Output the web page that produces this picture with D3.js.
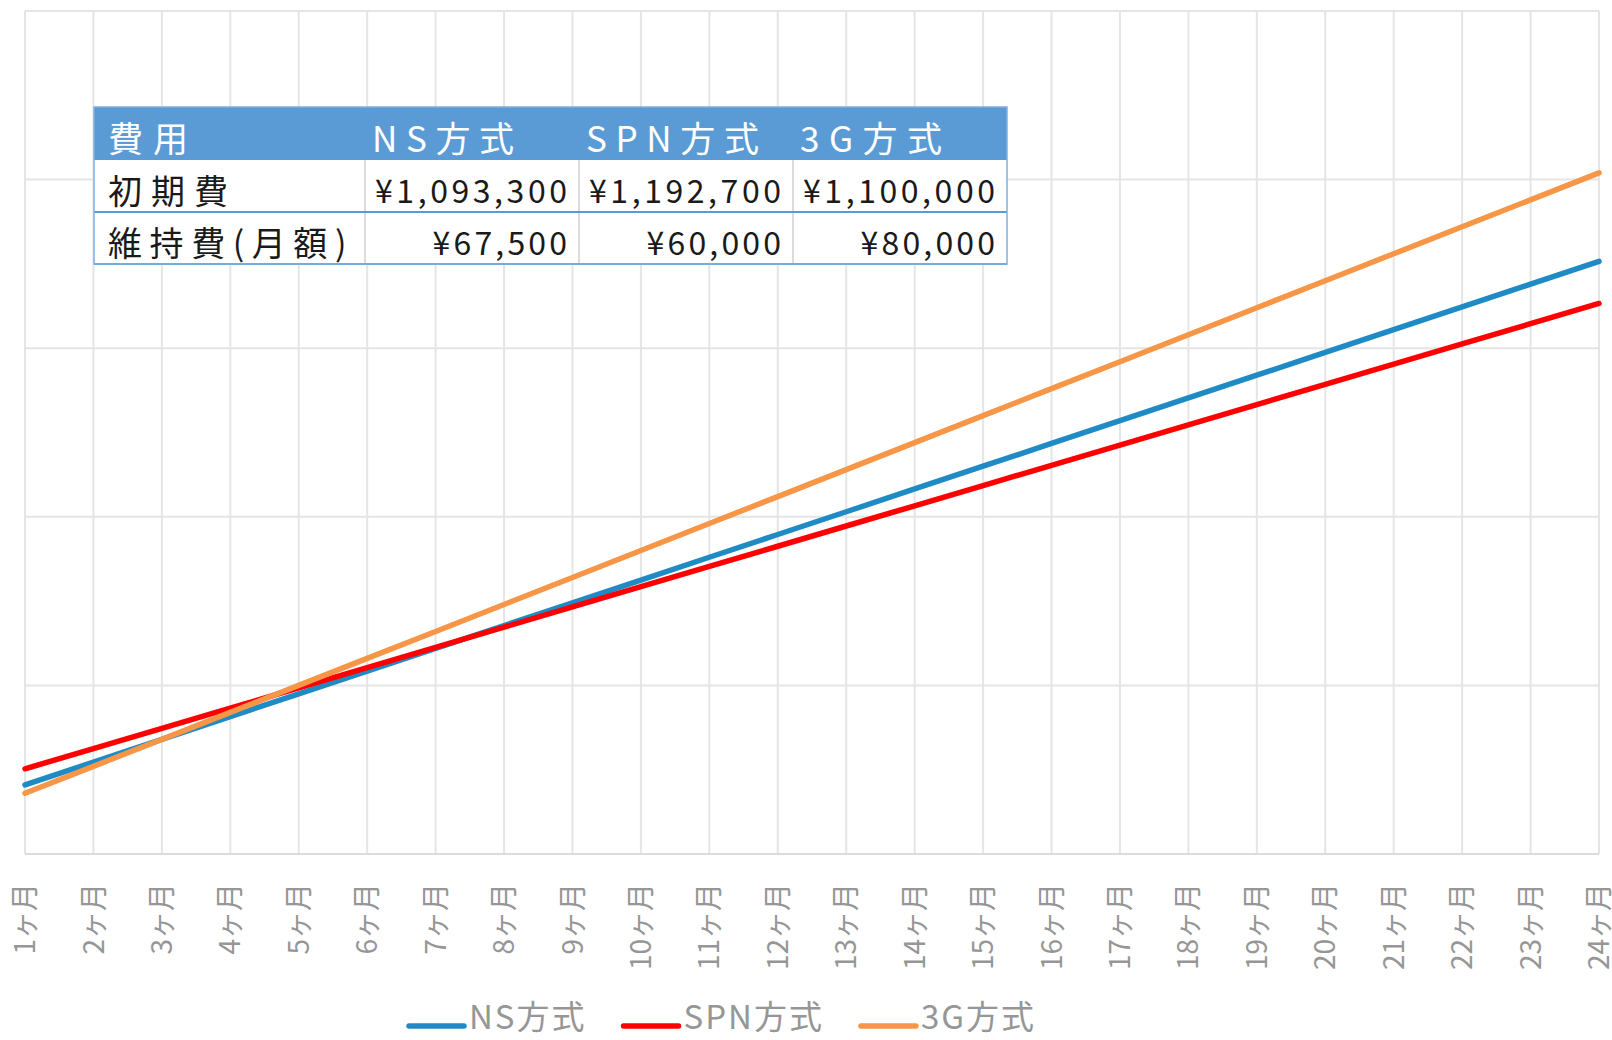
<!DOCTYPE html>
<html>
<head>
<meta charset="utf-8">
<script src="https://cdn.jsdelivr.net/npm/d3@7"></script>
<style>
  body { margin: 0; background: #fff; }
  text { font-family: "Noto Sans CJK JP", "Noto Sans", sans-serif; }
</style>
</head>
<body>
<div id="chart"></div>
<script>
// months on the x axis
var months = ["1ヶ月", "2ヶ月", "3ヶ月", "4ヶ月", "5ヶ月", "6ヶ月", "7ヶ月", "8ヶ月",
              "9ヶ月", "10ヶ月", "11ヶ月", "12ヶ月", "13ヶ月", "14ヶ月", "15ヶ月", "16ヶ月",
              "17ヶ月", "18ヶ月", "19ヶ月", "20ヶ月", "21ヶ月", "22ヶ月", "23ヶ月", "24ヶ月"];

// cumulative cost
var nsCost  = [1205000, 1272500, 1340000, 1407500, 1475000, 1542500, 1610000, 1677500,
               1745000, 1812500, 1880000, 1947500, 2015000, 2082500, 2150000, 2217500,
               2285000, 2352500, 2420000, 2487500, 2555000, 2622500, 2690000, 2757500];
var spnCost = [1252700, 1312700, 1372700, 1432700, 1492700, 1552700, 1612700, 1672700,
               1732700, 1792700, 1852700, 1912700, 1972700, 2032700, 2092700, 2152700,
               2212700, 2272700, 2332700, 2392700, 2452700, 2512700, 2572700, 2632700];
var g3Cost  = [1180000, 1260000, 1340000, 1420000, 1500000, 1580000, 1660000, 1740000,
               1820000, 1900000, 1980000, 2060000, 2140000, 2220000, 2300000, 2380000,
               2460000, 2540000, 2620000, 2700000, 2780000, 2860000, 2940000, 3020000];

var seriesNames = ["NS方式", "SPN方式", "3G方式"];
var yTicks = [1000000, 1500000, 2000000, 2500000, 3000000, 3500000];

// table in the chart
var tableHeader = ["費用", "NS方式", "SPN方式", "3G方式"];
var rowLabels = ["初期費", "維持費(月額)"];
var initialCost = [1093300, 1192700, 1100000];
var monthlyCost = [67500, 60000, 80000];

var width = 1612,
    height = 1040;

var svg = d3.select('#chart')
            .append('svg')
            .attr('width', width)
            .attr('height', height);

var x = d3.scalePoint().domain(months).range([25, 1599]);
var y = d3.scaleLinear().domain([1000000, 3500000]).range([854, 11]);

var colors = d3.scaleOrdinal().domain(seriesNames)
               .range(["#1f8bc4", "#ff0000", "#f79646"]);

// grid
var grid = svg.append('g');
grid.selectAll('.vgrid').data(months).enter()
    .append('line')
    .attr('x1', function(d) { return x(d); })
    .attr('x2', function(d) { return x(d); })
    .attr('y1', y(3500000)).attr('y2', y(1000000))
    .attr('stroke', '#e5e5e5').attr('stroke-width', 2);
grid.selectAll('.hgrid').data(yTicks).enter()
    .append('line')
    .attr('x1', x(months[0])).attr('x2', x(months[months.length - 1]))
    .attr('y1', function(d) { return y(d); })
    .attr('y2', function(d) { return y(d); })
    .attr('stroke', function(d, i) { return i == 0 ? '#dcdcdc' : '#e5e5e5'; })
    .attr('stroke-width', 2);

// x labels, rotated
svg.append('g').selectAll('text').data(months).enter()
   .append('text')
   .attr('transform', function(d) { return 'translate(' + x(d) + ',883) rotate(-90)'; })
   .attr('text-anchor', 'end')
   .attr('dy', '0.36em')
   .attr('font-size', 28)
   .attr('fill', '#969696')
   .text(function(d) { return d; });

// lines
var series = [nsCost, spnCost, g3Cost];
var line = d3.line()
             .x(function(d, i) { return x(months[i]); })
             .y(function(d) { return y(d); });

svg.append('g').selectAll('path').data(series).enter()
   .append('path')
   .attr('d', line)
   .attr('fill', 'none')
   .attr('stroke', function(d, i) { return colors(seriesNames[i]); })
   .attr('stroke-width', 5.5)
   .attr('stroke-linecap', 'round');

// table
var colX = [94, 365, 579, 793, 1007],
    rowY = [107, 160, 212, 264];
var fmt = function(v) { return '¥' + d3.format(',')(v); };

// approx width of a string in the table font
function textW(s, ascii) {
  var w = 0;
  for (var i = 0; i < s.length; i++) {
    var c = s.charCodeAt(i);
    if (c > 255 && s[i] != '¥') w += 40;
    else if (/[A-Z0-9]/.test(s[i])) w += ascii;
    else w += 19.2;
  }
  return w;
}

var tbl = svg.append('g');
tbl.append('rect')
   .attr('x', colX[0]).attr('y', rowY[0])
   .attr('width', colX[4] - colX[0]).attr('height', rowY[3] - rowY[0])
   .attr('fill', '#fff');
tbl.append('rect')
   .attr('x', colX[0]).attr('y', rowY[0])
   .attr('width', colX[4] - colX[0]).attr('height', rowY[1] - rowY[0])
   .attr('fill', '#5b9bd5');
// column dividers in body
tbl.selectAll('.coldiv').data([1, 2, 3]).enter()
   .append('line')
   .attr('x1', function(d) { return colX[d]; })
   .attr('x2', function(d) { return colX[d]; })
   .attr('y1', rowY[1]).attr('y2', rowY[3])
   .attr('stroke', '#d0d0d0').attr('stroke-width', 1.5);
tbl.selectAll('.rowdiv').data([2, 3]).enter()
   .append('line')
   .attr('x1', colX[0]).attr('x2', colX[4])
   .attr('y1', function(d) { return rowY[d]; })
   .attr('y2', function(d) { return rowY[d]; })
   .attr('stroke', '#5b9bd5').attr('stroke-width', 2);
tbl.append('rect')
   .attr('x', colX[0]).attr('y', rowY[0])
   .attr('width', colX[4] - colX[0]).attr('height', rowY[3] - rowY[0])
   .attr('fill', 'none')
   .attr('stroke', '#7fb0df').attr('stroke-width', 1.5);

tbl.selectAll('.head').data(tableHeader).enter()
   .append('text')
   .attr('x', function(d, i) { return colX[i] + (i == 0 ? 14 : 7); })
   .attr('y', rowY[1] - 8)
   .attr('font-size', 35)
   .attr('fill', '#fff')
   .attr('textLength', function(d) { return textW(d, 31); })
   .attr('lengthAdjust', 'spacing')
   .text(function(d) { return d; });

tbl.selectAll('.rlab').data(rowLabels).enter()
   .append('text')
   .attr('x', colX[0] + 14)
   .attr('y', function(d, i) { return rowY[i + 2] - 8; })
   .attr('font-size', 34)
   .attr('fill', '#1a1a1a')
   .attr('textLength', function(d) { return textW(d, 19.2); })
   .attr('lengthAdjust', 'spacing')
   .text(function(d) { return d; });

[initialCost, monthlyCost].forEach(function(vals, r) {
  tbl.selectAll('.val' + r).data(vals).enter()
     .append('text')
     .attr('x', function(d, i) { return colX[i + 2] - 12; })
     .attr('y', rowY[r + 2] - 9)
     .attr('text-anchor', 'end')
     .attr('font-size', 32)
     .attr('fill', '#1a1a1a')
     .attr('textLength', function(d) { return textW(fmt(d), 19.2); })
     .attr('lengthAdjust', 'spacing')
     .text(function(d) { return fmt(d); });
});

// legend
var legend = svg.append('g');
var lx = 409;
seriesNames.forEach(function(name) {
  legend.append('line')
        .attr('x1', lx).attr('x2', lx + 55)
        .attr('y1', 1026).attr('y2', 1026)
        .attr('stroke', colors(name))
        .attr('stroke-width', 5.5)
        .attr('stroke-linecap', 'round');
  var t = legend.append('text')
        .attr('x', lx + 60)
        .attr('y', 1017)
        .attr('dy', '0.36em')
        .attr('font-size', 33)
        .attr('letter-spacing', 2)
        .attr('fill', '#969696')
        .text(name);
  lx = lx + 60 + t.node().getComputedTextLength() + 37;
});
</script>
</body>
</html>
